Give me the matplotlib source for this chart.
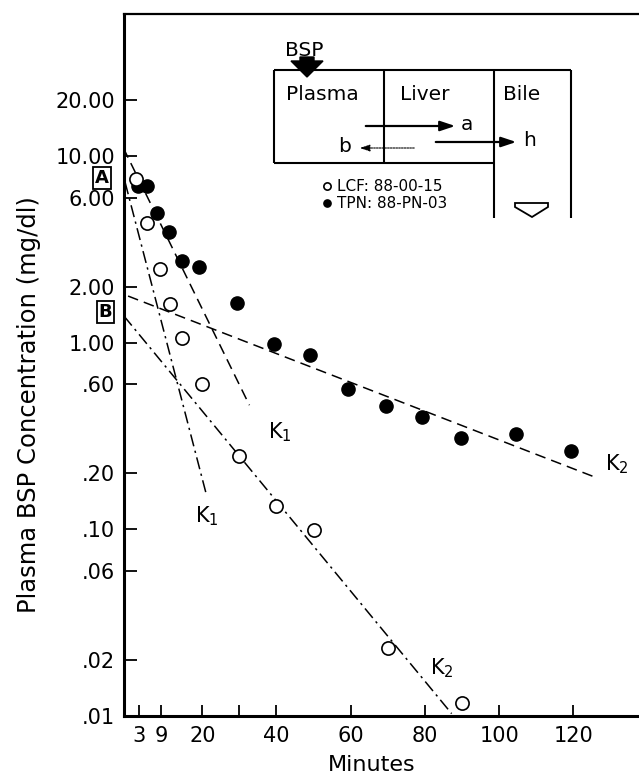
import matplotlib
matplotlib.use("Agg")
import matplotlib.pyplot as plt
from matplotlib.patches import Polygon
from matplotlib.ticker import NullLocator

plt.rcParams['font.family'] = ['DejaVu Sans']

# --- data ---
# LCF (open circles)
lcf_min = [2, 5, 8.5, 11.3, 14.6, 20, 30, 40, 50, 70, 90]
lcf_conc = [7.55, 4.41, 2.50, 1.61, 1.06, 0.60, 0.248, 0.134, 0.099, 0.0232, 0.0118]
# TPN (filled circles)
tpn_min = [2.8, 5.2, 7.7, 10.9, 14.5, 19.1, 29.3, 39.3, 49, 59.4, 69.5, 79.3, 89.8, 104.5, 119.4]
tpn_conc = [6.95, 6.89, 4.93, 3.91, 2.74, 2.56, 1.63, 0.99, 0.86, 0.564, 0.459, 0.398, 0.308, 0.324, 0.264]

# fitted exponential phases (end points of the drawn lines)
tpn_k1_x, tpn_k1_y = [-1.27, 32.7], [11.06, 0.463]
tpn_k2_x, tpn_k2_y = [0, 126], [1.78, 0.19]
lcf_k1_x, lcf_k1_y = [-0.8, 21.2], [7.24, 0.151]
lcf_k2_x, lcf_k2_y = [-1.1, 87.2], [1.39, 0.0103]

yticks = [20, 10, 6, 2, 1, 0.6, 0.2, 0.1, 0.06, 0.02, 0.01]
ytick_labels = ['20.00', '10.00', '6.00', '2.00', '1.00', '.60', '.20', '.10', '.06', '.02', '.01']
xticks = [3, 9, 20, 30, 40, 60, 80, 100, 120]
xtick_labels = ['3', '9', '20', '', '40', '60', '80', '100', '120']

W, H = 639, 776
fig = plt.figure(figsize=(W / 100, H / 100), dpi=100)
L, R, T, B = 124, 639, 14, 716
ax = fig.add_axes([L / W, 1 - B / H, (R - L) / W, (B - T) / H])
ax.set_yscale('log')
ax.set_xlim(-1.1, 137.7)
ax.set_ylim(0.0102, 57.8)

dash = (0, (7, 4))
dashdot = (0, (8, 3, 1.5, 3))
ax.plot(tpn_k1_x, tpn_k1_y, color='black', lw=1.1, ls=dash)
ax.plot(tpn_k2_x, tpn_k2_y, color='black', lw=1.1, ls=dash)
ax.plot(lcf_k1_x, lcf_k1_y, color='black', lw=1.1, ls=dashdot)
ax.plot(lcf_k2_x, lcf_k2_y, color='black', lw=1.1, ls=dashdot)

ax.plot(tpn_min, tpn_conc, 'o', color='black', ms=9.5, ls='none',
        label='TPN: 88-PN-03', zorder=3)
ax.plot(lcf_min, lcf_conc, 'o', mfc='white', mec='black', mew=1.2, ms=9.5,
        ls='none', label='LCF: 88-00-15', zorder=4)

# phase labels
kfont = dict(fontsize=15, ha='center', va='center')
ax.text(41.0, 0.332, r'$\mathregular{K_1}$', **kfont)
ax.text(21.3, 0.117, r'$\mathregular{K_1}$', **kfont)
ax.text(131.8, 0.224, r'$\mathregular{K_2}$', **kfont)
ax.text(84.6, 0.0180, r'$\mathregular{K_2}$', **kfont)

ax.set_yticks(yticks, ytick_labels)
ax.yaxis.set_minor_locator(NullLocator())
ax.set_xticks(xticks, xtick_labels)
ax.tick_params(axis='y', direction='in', length=9, width=1.3, labelsize=15, pad=6.5)
ax.tick_params(axis='x', direction='in', length=8, width=1.3, labelsize=15, pad=7)
ax.spines['left'].set_linewidth(2.2)
ax.spines['bottom'].set_linewidth(2.2)
ax.spines['top'].set_linewidth(1.6)
ax.spines['right'].set_visible(False)

ax.set_ylabel('Plasma BSP Concentration (mg/dl)', fontsize=17.5)
ax.yaxis.set_label_coords(-0.162, 0.444)
ax.set_xlabel('Minutes', fontsize=16)
ax.xaxis.set_label_coords(0.48, -0.055)

# overlay in pixel units for the compartment sketch
ov = fig.add_axes([0, 0, 1, 1], zorder=5)
ov.set_xlim(0, W)
ov.set_ylim(H, 0)
ov.axis('off')
ov.patch.set_alpha(0)

lk = dict(color='black', lw=1.5, solid_capstyle='butt')
ov.plot([274, 571], [70, 70], **lk)
ov.plot([274, 274], [70, 163], **lk)
ov.plot([274, 494], [163, 163], **lk)
ov.plot([384, 384], [70, 163], **lk)
ov.plot([494, 494], [70, 218], **lk)
ov.plot([571, 571], [70, 218], **lk)

ov.text(304, 50, 'BSP', fontsize=14.5, ha='center', va='center')
ov.add_patch(Polygon([(300, 57), (314, 57), (314, 61), (323, 61), (307, 77),
                      (291, 61), (300, 61)], closed=True, fc='black', ec='black'))
ov.text(322, 95, 'Plasma', fontsize=14.5, ha='center', va='center')
ov.text(425, 95, 'Liver', fontsize=14.5, ha='center', va='center')
ov.text(522, 95, 'Bile', fontsize=14.5, ha='center', va='center')

ov.annotate('', xy=(458, 126), xytext=(363, 126),
            arrowprops=dict(arrowstyle='-|>,head_length=0.9,head_width=0.3', color='black', lw=1.6))
ov.text(467, 124, 'a', fontsize=14.5, ha='center', va='center')
ov.annotate('', xy=(519, 142), xytext=(433, 142),
            arrowprops=dict(arrowstyle='-|>,head_length=0.9,head_width=0.3', color='black', lw=1.6))
ov.text(530, 141, 'h', fontsize=14.5, ha='center', va='center')
ov.annotate('', xy=(357, 148), xytext=(417, 148),
            arrowprops=dict(arrowstyle='-|>,head_length=0.6,head_width=0.2', color='black',
                            lw=0.8, ls=(0, (1.5, 1))))
ov.text(345, 147, 'b', fontsize=14.5, ha='center', va='center')

ov.add_patch(Polygon([(515, 203), (548, 203), (548, 207), (532, 217), (515, 207)],
                     closed=True, fc='white', ec='black', lw=1.3))

for txt, x, y in [('A', 102, 178), ('B', 105.5, 312)]:
    ov.text(x, y, txt, fontsize=13, fontweight='bold', ha='center', va='center',
            bbox=dict(boxstyle='square,pad=0.1', fc='white', ec='black', lw=1.3))

handles, labels = ax.get_legend_handles_labels()
ax.legend(handles[::-1], labels[::-1], loc='upper left', bbox_to_anchor=(322, 179),
          bbox_transform=ov.transData, frameon=False, fontsize=11, markerscale=0.55,
          handlelength=0.6, handletextpad=0.4, labelspacing=0.15, borderpad=0,
          borderaxespad=0)

fig.savefig('out.png', dpi=100)
